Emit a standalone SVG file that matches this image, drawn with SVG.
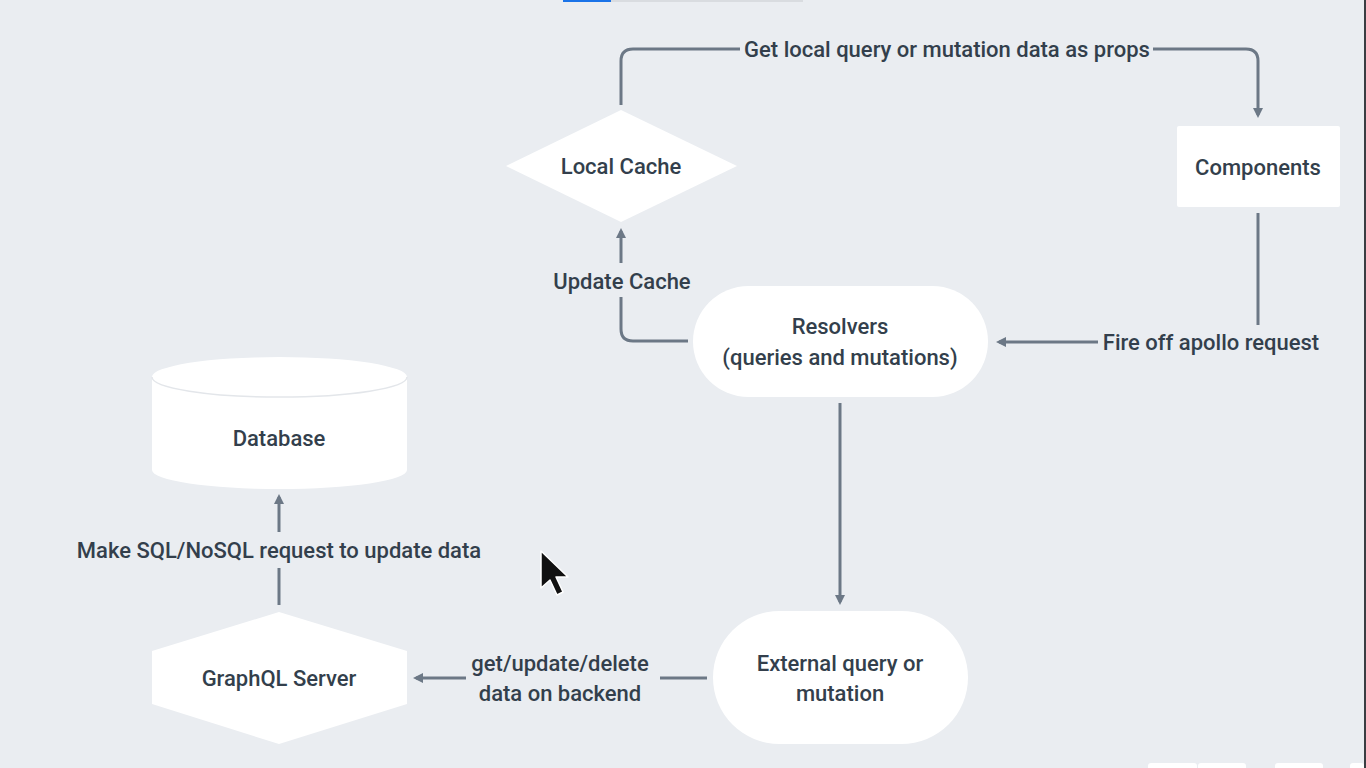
<svg xmlns="http://www.w3.org/2000/svg" width="1366" height="768" viewBox="0 0 1366 768">
<defs>
<style>
.node{fill:#ffffff;}
.lbl{font-family:Roboto,"Liberation Sans",sans-serif;font-size:22px;font-weight:500;fill:#333f4c;text-anchor:middle;}
.conn{fill:none;stroke:#6c7886;stroke-width:3;}
</style>
<marker id="arr" markerUnits="userSpaceOnUse" markerWidth="11" markerHeight="11" refX="7" refY="5" orient="auto">
<path d="M0,0 L10,5 L0,10 z" fill="#6c7886"/>
</marker>
</defs>
<rect x="0" y="0" width="1366" height="768" fill="#eaedf1"/>
<rect x="563" y="0" width="48" height="2" fill="#1a73e8"/>
<rect x="611" y="0" width="192" height="2" fill="#d9dce0"/>
<rect x="1364" y="0" width="2" height="768" fill="#3a3d42"/>

<g id="connectors">
<path class="conn" d="M621,105 V61 Q621,49 633,49 H740"/>
<path class="conn" d="M1153,49 H1246 Q1258,49 1258,61 V115" marker-end="url(#arr)"/>
<path class="conn" d="M688,341 H633 Q621,341 621,329 V297"/>
<path class="conn" d="M621,263 V231" marker-end="url(#arr)"/>
<path class="conn" d="M1258,213 V325"/>
<path class="conn" d="M1098,342 H999" marker-end="url(#arr)"/>
<path class="conn" d="M840,403 V602" marker-end="url(#arr)"/>
<path class="conn" d="M707,678 H660"/>
<path class="conn" d="M466,678 H416" marker-end="url(#arr)"/>
<path class="conn" d="M279,605 V568"/>
<path class="conn" d="M279,532 V497" marker-end="url(#arr)"/>
<text class="lbl" x="947" y="57">Get local query or mutation data as props</text>
<text class="lbl" x="622" y="289">Update Cache</text>
<text class="lbl" x="1211" y="350">Fire off apollo request</text>
<text class="lbl" x="560" y="671">get/update/delete</text>
<text class="lbl" x="560" y="701">data on backend</text>
<text class="lbl" x="279" y="558">Make SQL/NoSQL request to update data</text>
</g>

<g id="local-cache">
<polygon class="node" points="621,110 737,166 621,222 506,166"/>
<text class="lbl" x="621" y="174">Local Cache</text>
</g>

<g id="components">
<rect class="node" x="1177" y="126" width="163" height="81" rx="2"/>
<text class="lbl" x="1258" y="175">Components</text>
</g>

<g id="resolvers">
<rect class="node" x="693" y="286" width="295" height="111" rx="55.5"/>
<text class="lbl" x="840" y="334">Resolvers</text>
<text class="lbl" x="840" y="365">(queries and mutations)</text>
</g>

<g id="external">
<rect class="node" x="713" y="611" width="255" height="133" rx="66.5"/>
<text class="lbl" x="840" y="671">External query or</text>
<text class="lbl" x="840" y="701">mutation</text>
</g>

<g id="graphql-server">
<polygon class="node" points="279,612 407,651 407,704 279,744 152,704 152,651"/>
<text class="lbl" x="279" y="686">GraphQL Server</text>
</g>

<g id="database">
<path class="node" d="M152,377 A127.5,20 0 0 1 407,377 V470 A127.5,19 0 0 1 152,470 Z"/>
<path d="M152,377 A127.5,20 0 0 0 407,377" fill="none" stroke="#e3e6ea" stroke-width="1.5"/>
<text class="lbl" x="279" y="446">Database</text>
</g>

<g id="ui-overlay">
<rect x="1148" y="763" width="49" height="8" rx="3" fill="#ffffff"/>
<rect x="1198" y="763" width="48" height="8" rx="3" fill="#ffffff"/>
<rect x="1275" y="763" width="48" height="8" rx="3" fill="#ffffff"/>
<rect x="1350" y="763" width="14" height="8" rx="3" fill="#ffffff"/>
<polygon points="541,551 541,588 550,580 557,595 563,592 556,577 568,577" fill="#111111" stroke="#ffffff" stroke-width="1.5" stroke-linejoin="round"/>
</g>
</svg>
